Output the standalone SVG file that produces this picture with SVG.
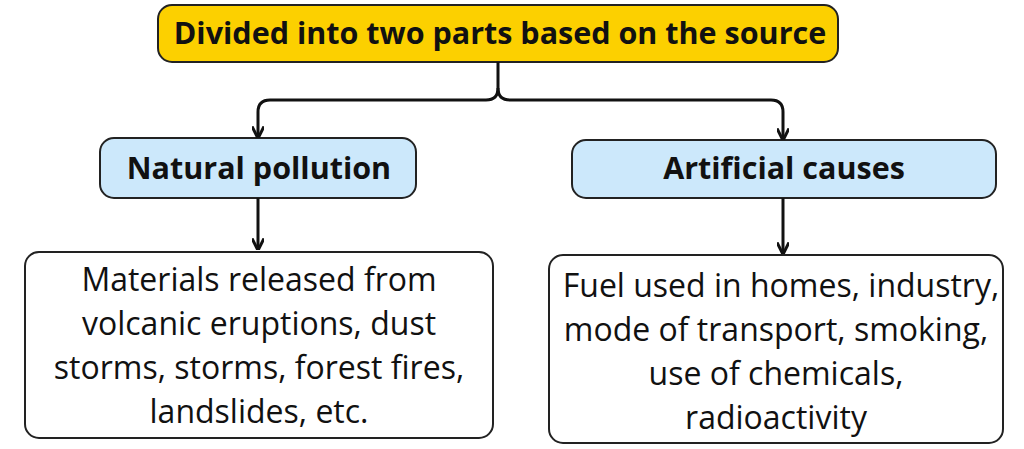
<svg xmlns="http://www.w3.org/2000/svg" width="1024" height="449" viewBox="0 0 1024 449">
<style>
.b{stroke:#222;stroke-width:2}
.t{font-family:"Open Sans","Liberation Sans",sans-serif;fill:#111;text-anchor:middle}
.h{font-weight:bold;font-size:30.5px}
.p{font-size:32px}
.c{fill:none;stroke:#111;stroke-width:3}
</style>
<defs><marker id="a" viewBox="0 0 10 10" refX="8" refY="5" markerWidth="4" markerHeight="4" orient="auto"><path d="M0,0 L10,5 L0,10" fill="none" stroke="#111" stroke-width="2.5"/></marker></defs>
<rect width="1024" height="449" fill="#fff"/>
<g id="top"><rect class="b" x="158" y="5" width="680" height="57" rx="14" fill="#fcd000"/><text class="t h" x="500" y="44">Divided into two parts based on the source</text></g>
<g id="natural"><rect class="b" x="100" y="138" width="316" height="60" rx="14" fill="#cce8fb"/><text class="t h" x="259" y="179">Natural pollution</text></g>
<g id="artificial"><rect class="b" x="572" y="140" width="424" height="58" rx="14" fill="#cce8fb"/><text class="t h" x="784" y="179">Artificial causes</text></g>
<g id="nat-desc"><rect class="b" x="25" y="252" width="468" height="186" rx="14" fill="#fff"/>
<text class="t p"><tspan x="259" y="291">Materials released from</tspan><tspan x="259" y="335">volcanic eruptions, dust</tspan><tspan x="259" y="379">storms, storms, forest fires,</tspan><tspan x="259" y="423">landslides, etc.</tspan></text></g>
<g id="art-desc"><rect class="b" x="549" y="255" width="454" height="188" rx="14" fill="#fff"/>
<text class="t p"><tspan x="781" y="297">Fuel used in homes, industry,</tspan><tspan x="776" y="341">mode of transport, smoking,</tspan><tspan x="776" y="385">use of chemicals,</tspan><tspan x="776" y="429">radioactivity</tspan></text></g>
<g id="connectors">
<path class="c" d="M498,62 V88 Q498,100 486,100 H270 Q258,100 258,112 V136" marker-end="url(#a)"/>
<path class="c" d="M498,88 Q498,100 510,100 H771 Q783,100 783,112 V138" marker-end="url(#a)"/>
<path class="c" d="M258,198 V248" marker-end="url(#a)"/>
<path class="c" d="M783,198 V252" marker-end="url(#a)"/>
</g>
</svg>
